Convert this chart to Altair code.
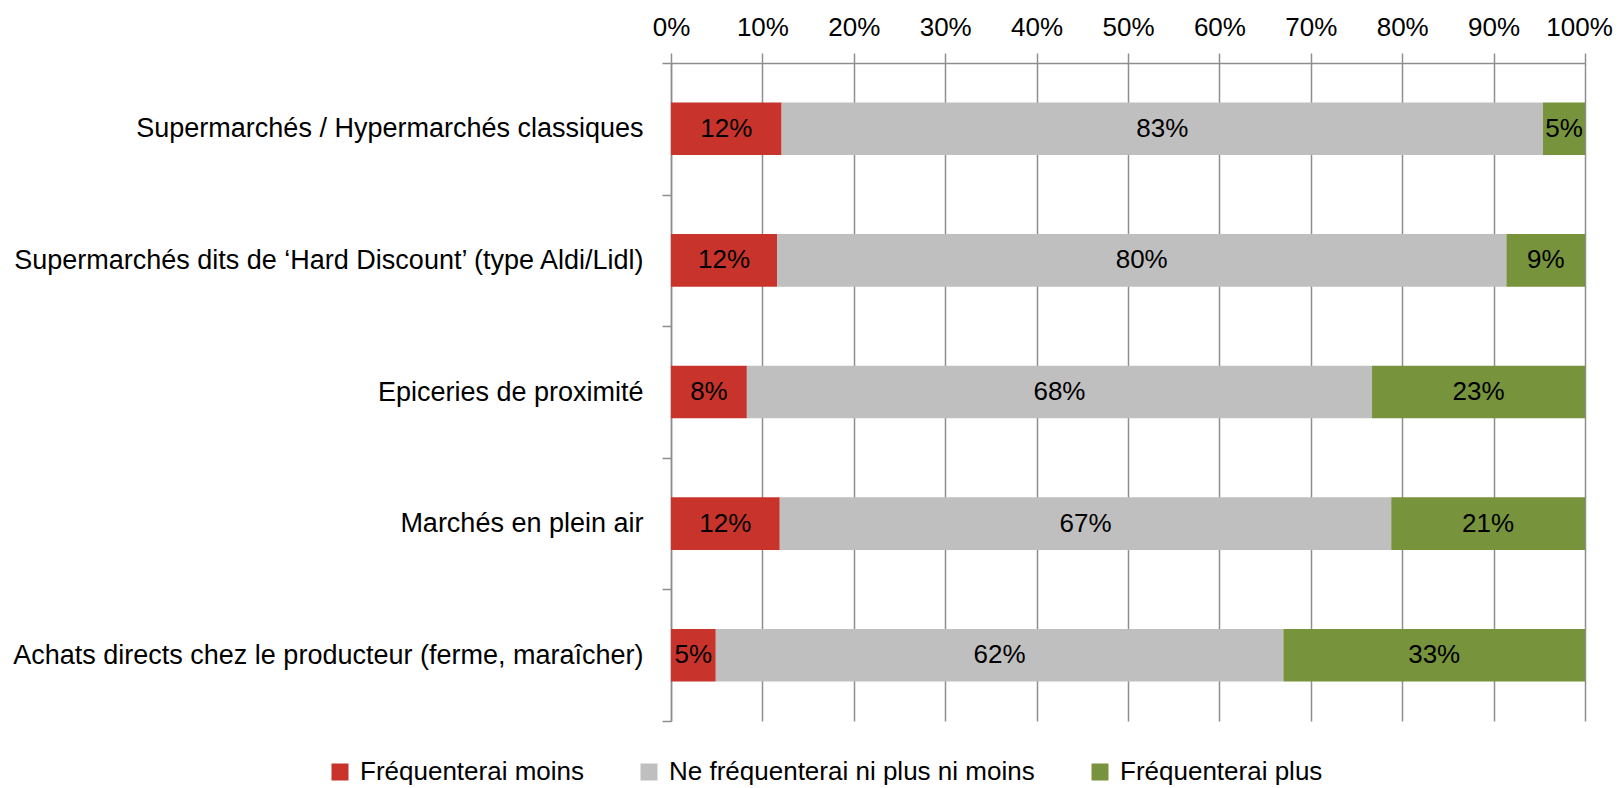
import altair as alt
import pandas as pd

categories = [
    "Supermarchés / Hypermarchés classiques",
    "Supermarchés dits de ‘Hard Discount’ (type Aldi/Lidl)",
    "Epiceries de proximité",
    "Marchés en plein air",
    "Achats directs chez le producteur (ferme, maraîcher)",
]
series = ["Fréquenterai moins", "Ne fréquenterai ni plus ni moins", "Fréquenterai plus"]
moins = [12.1, 11.6, 8.3, 11.9, 4.9]
neutre = [83.3, 79.8, 68.4, 66.9, 62.1]
plus = [4.6, 8.6, 23.3, 21.2, 33.0]
colors = ["#C8342C", "#BFBFBF", "#77933C"]
ticks = [0, 10, 20, 30, 40, 50, 60, 70, 80, 90, 100]

rows = []
for i, c in enumerate(categories):
    for j, vals in enumerate([moins, neutre, plus]):
        rows.append({"cat": c, "serie": series[j], "ord": j, "value": vals[i]})
df = pd.DataFrame(rows)

FONT = "Liberation Sans"
FS = 26
GRAY = "#8E8E8E"

base = alt.Chart(df).transform_stack(
    stack="value", groupby=["cat"], as_=["v0", "v1"], sort=[alt.SortField("ord")]
).transform_calculate(
    mid="(datum.v0 + datum.v1) / 2",
    label="format(datum.value, '.0f') + '%'",
)

y_enc = alt.Y(
    "cat:N",
    sort=categories,
    title=None,
    scale=alt.Scale(paddingInner=0, paddingOuter=0),
    axis=alt.Axis(
        tickBand="extent",
        tickSize=9,
        labelPadding=19,
        labelFontSize=27,
        labelFont=FONT,
        labelColor="#000000",
        labelLimit=700,
        domainColor=GRAY,
        tickColor=GRAY,
        domainWidth=1.5,
        tickWidth=1.5,
        grid=False,
    ),
)

bars = base.mark_bar(height=alt.RelativeBandSize(band=0.4)).encode(
    x=alt.X(
        "v0:Q",
        scale=alt.Scale(domain=[0, 100], nice=False),
        title=None,
        axis=alt.Axis(
            orient="top",
            values=ticks,
            labelExpr="datum.value + '%'",
            labelOverlap=False,
            labelFlush=False,
            labelOffset={"condition": {"test": "datum.value == 100", "value": -6}, "value": 0},
            tickSize=10,
            labelPadding=13,
            labelFontSize=FS,
            labelFont=FONT,
            labelColor="#000000",
            domainColor=GRAY,
            tickColor=GRAY,
            gridColor=GRAY,
            domainWidth=1.5,
            tickWidth=1.5,
            gridWidth=1.5,
            grid=True,
        ),
    ),
    x2="v1:Q",
    y=y_enc,
    color=alt.Color(
        "serie:N",
        scale=alt.Scale(domain=series, range=colors),
        sort=series,
        legend=alt.Legend(
            title=None,
            orient="none",
            legendX=-344,
            legendY=696,
            direction="horizontal",
            symbolType="square",
            symbolSize=289,
            symbolStrokeWidth=0,
            labelFontSize=FS,
            labelFont=FONT,
            labelColor="#000000",
            columnPadding=52,
            labelOffset=7,
            labelLimit=600,
        ),
    ),
    order=alt.Order("ord:Q"),
)

texts = base.mark_text(fontSize=FS, font=FONT, color="#000000").encode(
    x=alt.X("mid:Q"),
    y=alt.Y("cat:N", sort=categories),
    text="label:N",
)

chart = (
    alt.layer(bars, texts)
    .properties(
        width=914,
        height=658,
        padding={"left": 663, "top": 55, "right": 29, "bottom": 66},
        autosize=alt.AutoSizeParams(type="none"),
    )
    .configure_view(stroke=None)
)

chart.save("out.html", embed_options={"renderer": "svg", "actions": False})
